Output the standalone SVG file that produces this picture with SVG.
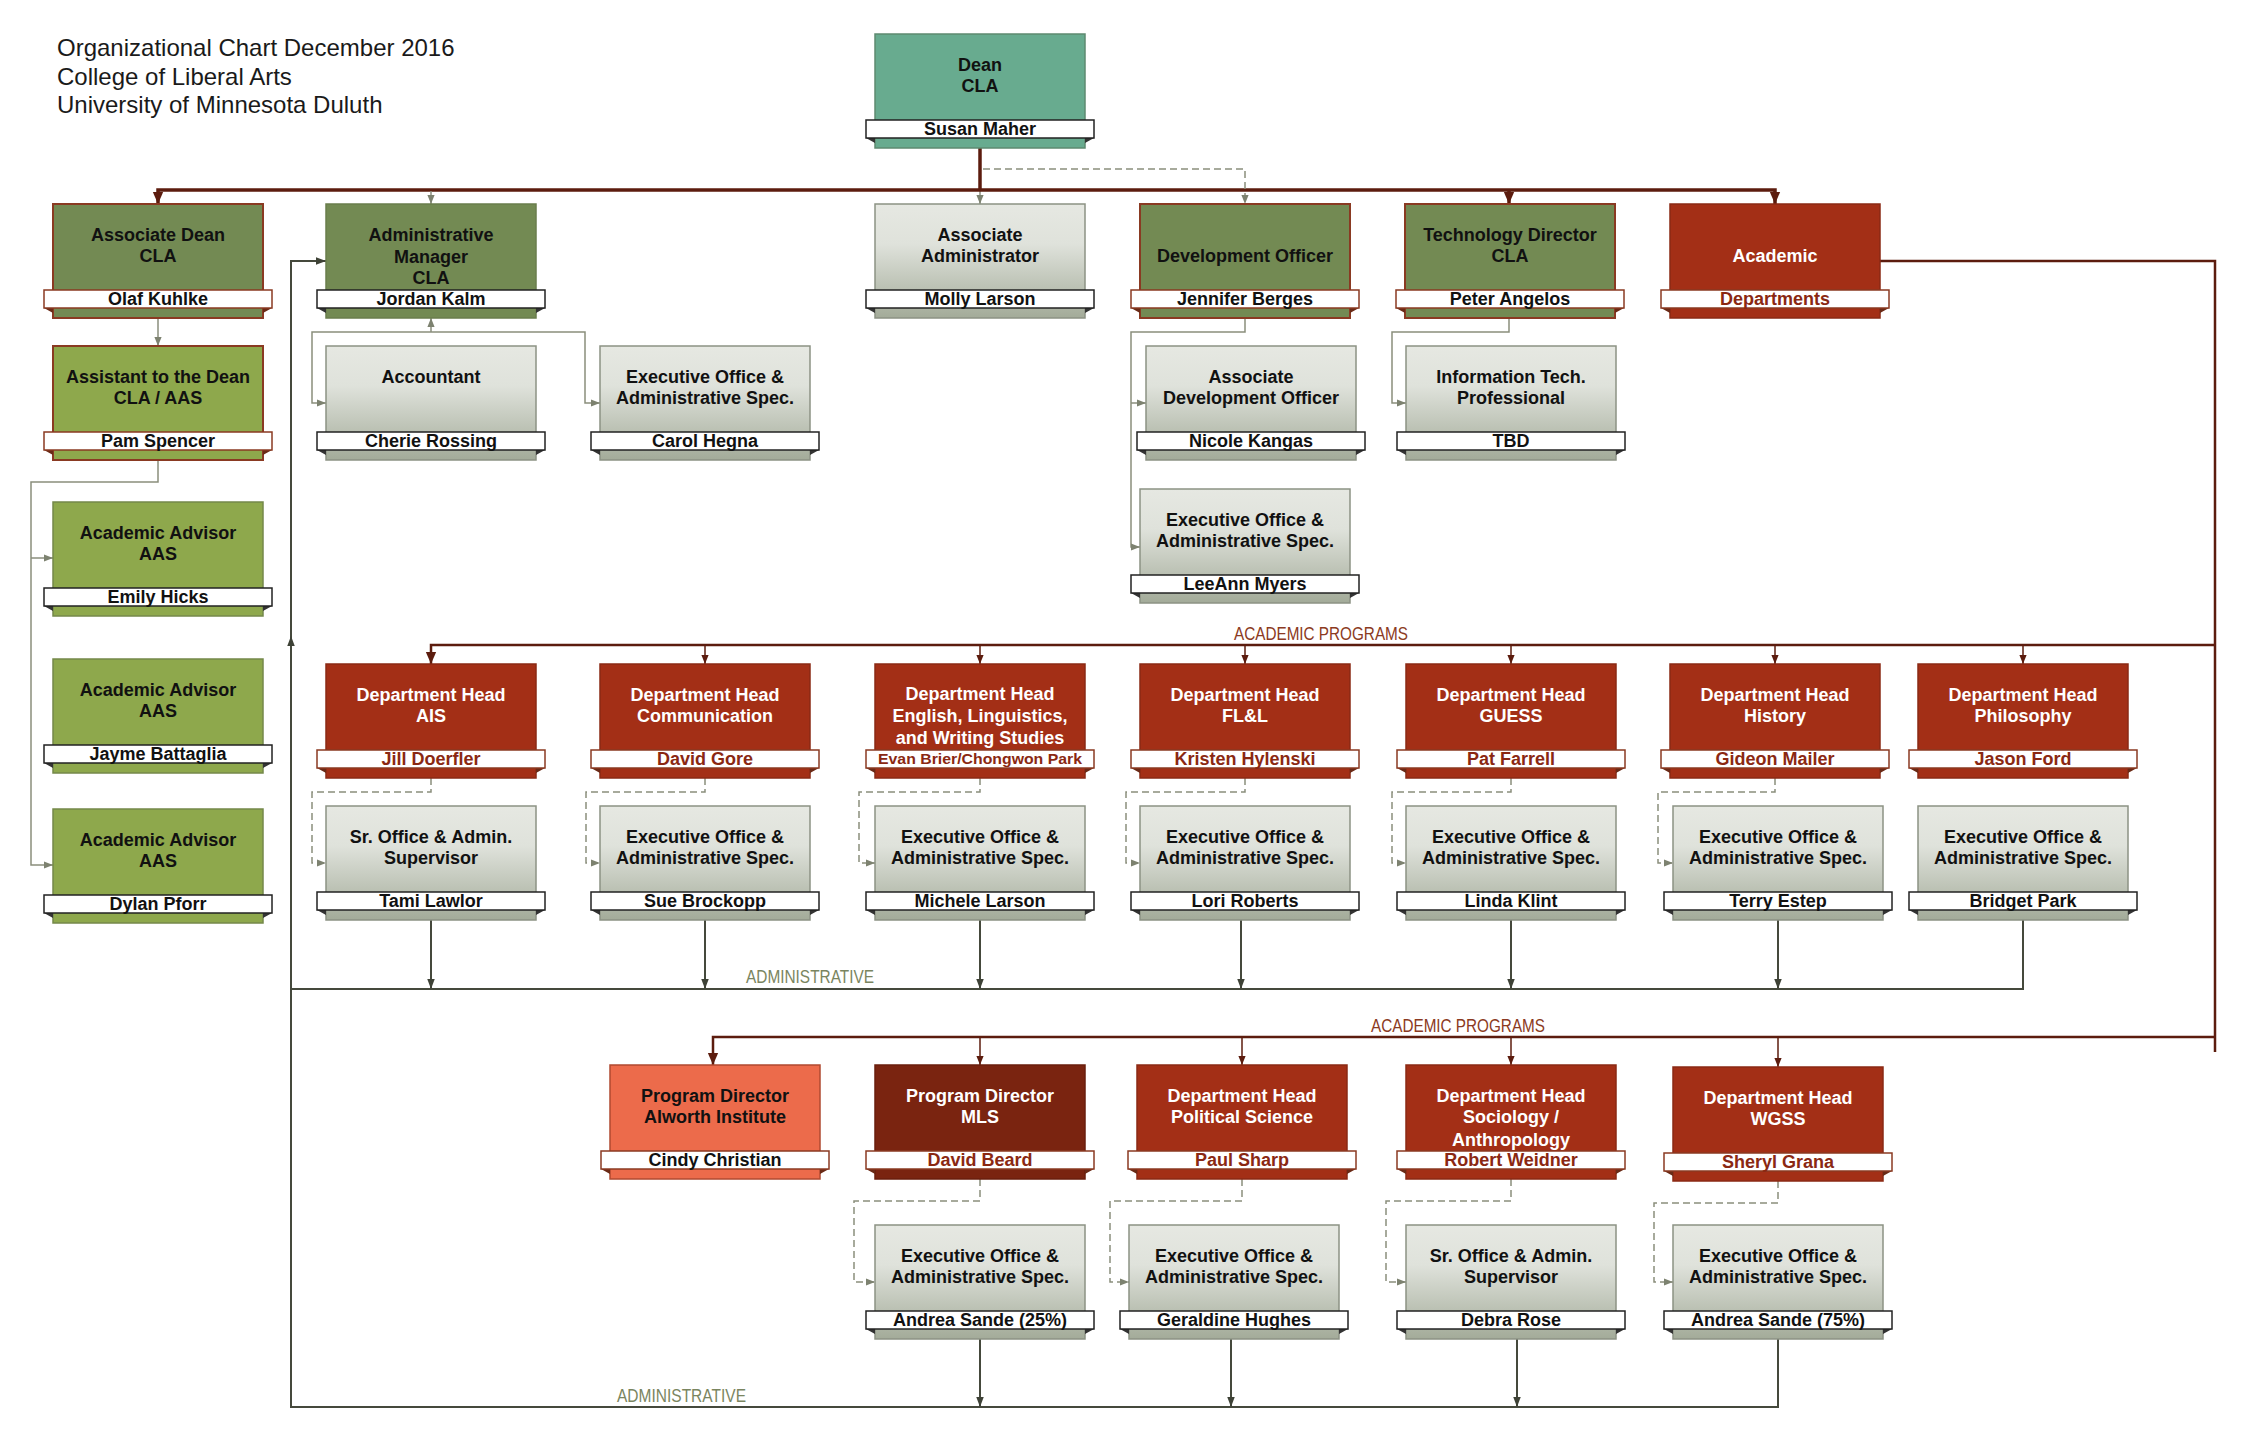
<svg xmlns="http://www.w3.org/2000/svg" width="2250" height="1450" viewBox="0 0 2250 1450">
<defs>
<linearGradient id="gGray" x1="0" y1="0" x2="0" y2="1">
<stop offset="0" stop-color="#e6e8e2"/>
<stop offset="0.35" stop-color="#dfe2db"/>
<stop offset="1" stop-color="#a3ab99"/>
</linearGradient>
<marker id="ahBig" markerUnits="userSpaceOnUse" markerWidth="12" markerHeight="14" viewBox="0 0 14 12" refX="14" refY="6" orient="auto-start-reverse"><path d="M0,0 L14,6 L0,12 z" fill="#5c1c0e"/></marker>
<marker id="ahSm" markerUnits="userSpaceOnUse" markerWidth="9" markerHeight="9" viewBox="0 0 10 8" refX="10" refY="4" orient="auto-start-reverse"><path d="M0,0 L10,4 L0,8 z" fill="#5c1c0e"/></marker>
<marker id="ahGray" markerUnits="userSpaceOnUse" markerWidth="9" markerHeight="9" viewBox="0 0 10 8" refX="10" refY="4" orient="auto-start-reverse"><path d="M0,0 L10,4 L0,8 z" fill="#7d8270"/></marker>
<marker id="ahAdm" markerUnits="userSpaceOnUse" markerWidth="10" markerHeight="10" viewBox="0 0 12 9" refX="12" refY="4.5" orient="auto-start-reverse"><path d="M0,0 L12,4.5 L0,9 z" fill="#3e4236"/></marker>
</defs>
<style>
.title{font-family:"Liberation Sans",Arial,sans-serif;font-size:24px;fill:#1a1a1a}
.t{font-family:"Liberation Sans",Arial,sans-serif;font-weight:bold;font-size:18px;text-anchor:middle;fill:#111}
.tw{fill:#fff}
.nm{font-family:"Liberation Sans",Arial,sans-serif;font-weight:bold;font-size:18px;text-anchor:middle;fill:#111}
.nmr{fill:#8a2812}
.bar{fill:#fff;stroke:#222;stroke-width:1.5}
.barr{fill:#fff;stroke:#8a3a22;stroke-width:1.5}
.fold{fill:#333}
.foldr{fill:#6a2a16}
.teal{fill:#68ab8f;stroke:#5e8a70;stroke-width:1.5}
.olive{fill:#738a53;stroke:#8a3a22;stroke-width:2}
.olive2{fill:#738a53;stroke:#6a7d4c;stroke-width:1.5}
.lolive{fill:#8ea84c;stroke:#8a3a22;stroke-width:2}
.lolive2{fill:#8ea84c;stroke:#74884a;stroke-width:1.5}
.gray{fill:url(#gGray);stroke:#8c9284;stroke-width:1.5}
.red{fill:#a32f16;stroke:#8a2a14;stroke-width:1.5}
.mls{fill:#7a2410;stroke:#6a1e0c;stroke-width:1.5}
.coral{fill:#ec6b4b;stroke:#b04a30;stroke-width:1.5}
.thick{fill:none;stroke:#5c1c0e;stroke-width:3.5}
.acad{fill:none;stroke:#5c1c0e;stroke-width:2.5}
.thin{fill:none;stroke:#5c1c0e;stroke-width:1.5}
.gl{fill:none;stroke:#8a8e7c;stroke-width:1.5}
.dash{fill:none;stroke:#8a8e7c;stroke-width:1.5;stroke-dasharray:7 4}
.adm{fill:none;stroke:#45493c;stroke-width:2}
.lblA{font-family:"Liberation Sans",Arial,sans-serif;font-size:18px;fill:#8b3a22}
.lblD{font-family:"Liberation Sans",Arial,sans-serif;font-size:18px;fill:#7a8560}
</style>
<rect width="2250" height="1450" fill="#fff"/>

<g id="title">
<text class="title" x="57" y="56">Organizational Chart December 2016</text>
<text class="title" x="57" y="85">College of Liberal Arts</text>
<text class="title" x="57" y="113">University of Minnesota Duluth</text>
</g>

<g id="connectors">
<path class="thick" d="M980,148 V190"/>
<path class="gl" d="M980,190 V204" marker-end="url(#ahGray)"/>
<path class="thick" d="M158,204 V190 H1775 V204" marker-start="url(#ahBig)" marker-end="url(#ahBig)"/>
<path class="thick" d="M1509,190 V204" marker-end="url(#ahBig)"/>
<path class="gl" d="M431,191 V204" marker-end="url(#ahGray)"/>
<path class="dash" d="M983,169 H1245 V204" marker-end="url(#ahGray)"/>
<path class="gl" d="M158,318 V346" marker-end="url(#ahGray)"/>
<path class="gl" d="M158,460 V482 H31 V865 H53" marker-end="url(#ahGray)"/>
<path class="gl" d="M31,558 H53" marker-end="url(#ahGray)"/>
<path class="gl" d="M431,332 V318" marker-end="url(#ahGray)"/>
<path class="gl" d="M326,403 H312 V332 H585 V403 H600" marker-start="url(#ahGray)" marker-end="url(#ahGray)"/>
<path class="gl" d="M1245,318 V332 H1131 V547 H1140" marker-end="url(#ahGray)"/>
<path class="gl" d="M1131,403 H1146" marker-end="url(#ahGray)"/>
<path class="gl" d="M1509,318 V332 H1392 V403 H1406" marker-end="url(#ahGray)"/>
<path class="acad" d="M1880,261 H2215 V1052"/>
<path class="acad" d="M2215,645 H431 V664" marker-end="url(#ahBig)"/>
<path class="thin" d="M705,645 V664" marker-end="url(#ahSm)"/>
<path class="thin" d="M980,645 V664" marker-end="url(#ahSm)"/>
<path class="thin" d="M1245,645 V664" marker-end="url(#ahSm)"/>
<path class="thin" d="M1511,645 V664" marker-end="url(#ahSm)"/>
<path class="thin" d="M1775,645 V664" marker-end="url(#ahSm)"/>
<path class="thin" d="M2023,645 V664" marker-end="url(#ahSm)"/>
<path class="acad" d="M2215,1037 H713 V1065" marker-end="url(#ahBig)"/>
<path class="thin" d="M980,1037 V1065" marker-end="url(#ahSm)"/>
<path class="thin" d="M1242,1037 V1065" marker-end="url(#ahSm)"/>
<path class="thin" d="M1511,1037 V1065" marker-end="url(#ahSm)"/>
<path class="thin" d="M1778,1037 V1067" marker-end="url(#ahSm)"/>
<path class="dash" d="M431,778 V792 H312 V863 H326" marker-end="url(#ahGray)"/>
<path class="dash" d="M705,778 V792 H586 V863 H600" marker-end="url(#ahGray)"/>
<path class="dash" d="M980,778 V792 H859 V863 H875" marker-end="url(#ahGray)"/>
<path class="dash" d="M1245,778 V792 H1126 V863 H1140" marker-end="url(#ahGray)"/>
<path class="dash" d="M1511,778 V792 H1392 V863 H1406" marker-end="url(#ahGray)"/>
<path class="dash" d="M1775,778 V792 H1658 V863 H1673" marker-end="url(#ahGray)"/>
<path class="dash" d="M980,1179 V1201 H854 V1282 H875" marker-end="url(#ahGray)"/>
<path class="dash" d="M1242,1179 V1201 H1110 V1282 H1129" marker-end="url(#ahGray)"/>
<path class="dash" d="M1511,1179 V1201 H1386 V1282 H1406" marker-end="url(#ahGray)"/>
<path class="dash" d="M1778,1181 V1203 H1654 V1282 H1673" marker-end="url(#ahGray)"/>
<path class="adm" d="M326,261 H291 V1407 H1778 V1339" marker-start="url(#ahAdm)"/>
<path class="adm" d="M291,652 V636" marker-end="url(#ahAdm)"/>
<path class="adm" d="M291,989 H2023 V920"/>
<path class="adm" d="M431,920 V989" marker-end="url(#ahAdm)"/>
<path class="adm" d="M705,920 V989" marker-end="url(#ahAdm)"/>
<path class="adm" d="M980,920 V989" marker-end="url(#ahAdm)"/>
<path class="adm" d="M1241,920 V989" marker-end="url(#ahAdm)"/>
<path class="adm" d="M1511,920 V989" marker-end="url(#ahAdm)"/>
<path class="adm" d="M1778,920 V989" marker-end="url(#ahAdm)"/>
<path class="adm" d="M980,1339 V1407" marker-end="url(#ahAdm)"/>
<path class="adm" d="M1231,1339 V1407" marker-end="url(#ahAdm)"/>
<path class="adm" d="M1517,1339 V1407" marker-end="url(#ahAdm)"/>
<text class="lblA" x="1234" y="640" textLength="174" lengthAdjust="spacingAndGlyphs">ACADEMIC PROGRAMS</text>
<text class="lblA" x="1371" y="1032" textLength="174" lengthAdjust="spacingAndGlyphs">ACADEMIC PROGRAMS</text>
<text class="lblD" x="746" y="983" textLength="128" lengthAdjust="spacingAndGlyphs">ADMINISTRATIVE</text>
<text class="lblD" x="617" y="1402" textLength="129" lengthAdjust="spacingAndGlyphs">ADMINISTRATIVE</text>
</g>

<g id="n-dean"><rect class="teal" x="875" y="34" width="210" height="114"/><path class="fold" d="M866,138h9v5z M1094,138h-9v5z"/><rect class="bar" x="866" y="120" width="228" height="18"/><text class="t" x="980" y="71">Dean</text><text class="t" x="980" y="92">CLA</text><text class="nm" x="980" y="135">Susan Maher</text></g>

<g id="n-assoc-dean"><rect class="olive" x="53" y="204" width="210" height="114"/><path class="foldr" d="M44,308h9v5z M272,308h-9v5z"/><rect class="barr" x="44" y="290" width="228" height="18"/><text class="t" x="158" y="241">Associate Dean</text><text class="t" x="158" y="262">CLA</text><text class="nm" x="158" y="305">Olaf Kuhlke</text></g>

<g id="n-admin-manager"><rect class="olive2" x="326" y="204" width="210" height="114"/><path class="fold" d="M317,308h9v5z M545,308h-9v5z"/><rect class="bar" x="317" y="290" width="228" height="18"/><text class="t" x="431" y="241">Administrative</text><text class="t" x="431" y="262.5">Manager</text><text class="t" x="431" y="284">CLA</text><text class="nm" x="431" y="305">Jordan Kalm</text></g>

<g id="n-assoc-admin"><rect class="gray" x="875" y="204" width="210" height="114"/><path class="fold" d="M866,308h9v5z M1094,308h-9v5z"/><rect class="bar" x="866" y="290" width="228" height="18"/><text class="t" x="980" y="241">Associate</text><text class="t" x="980" y="262">Administrator</text><text class="nm" x="980" y="305">Molly Larson</text></g>

<g id="n-dev-officer"><rect class="olive" x="1140" y="204" width="210" height="114"/><path class="foldr" d="M1131,308h9v5z M1359,308h-9v5z"/><rect class="barr" x="1131" y="290" width="228" height="18"/><text class="t" x="1245" y="262">Development Officer</text><text class="nm" x="1245" y="305">Jennifer Berges</text></g>

<g id="n-tech-director"><rect class="olive" x="1405" y="204" width="210" height="114"/><path class="foldr" d="M1396,308h9v5z M1624,308h-9v5z"/><rect class="barr" x="1396" y="290" width="228" height="18"/><text class="t" x="1510" y="241">Technology Director</text><text class="t" x="1510" y="262">CLA</text><text class="nm" x="1510" y="305">Peter Angelos</text></g>

<g id="n-academic"><rect class="red" x="1670" y="204" width="210" height="114"/><path class="foldr" d="M1661,308h9v5z M1889,308h-9v5z"/><rect class="barr" x="1661" y="290" width="228" height="18"/><text class="t tw" x="1775" y="262">Academic</text><text class="nm nmr" x="1775" y="305">Departments</text></g>

<g id="n-assistant"><rect class="lolive" x="53" y="346" width="210" height="114"/><path class="foldr" d="M44,450h9v5z M272,450h-9v5z"/><rect class="barr" x="44" y="432" width="228" height="18"/><text class="t" x="158" y="383">Assistant to the Dean</text><text class="t" x="158" y="404">CLA / AAS</text><text class="nm" x="158" y="447">Pam Spencer</text></g>

<g id="n-accountant"><rect class="gray" x="326" y="346" width="210" height="114"/><path class="fold" d="M317,450h9v5z M545,450h-9v5z"/><rect class="bar" x="317" y="432" width="228" height="18"/><text class="t" x="431" y="383">Accountant</text><text class="nm" x="431" y="447">Cherie Rossing</text></g>

<g id="n-exec-hegna"><rect class="gray" x="600" y="346" width="210" height="114"/><path class="fold" d="M591,450h9v5z M819,450h-9v5z"/><rect class="bar" x="591" y="432" width="228" height="18"/><text class="t" x="705" y="383">Executive Office &amp;</text><text class="t" x="705" y="404">Administrative Spec.</text><text class="nm" x="705" y="447">Carol Hegna</text></g>

<g id="n-assoc-dev"><rect class="gray" x="1146" y="346" width="210" height="114"/><path class="fold" d="M1137,450h9v5z M1365,450h-9v5z"/><rect class="bar" x="1137" y="432" width="228" height="18"/><text class="t" x="1251" y="383">Associate</text><text class="t" x="1251" y="404">Development Officer</text><text class="nm" x="1251" y="447">Nicole Kangas</text></g>

<g id="n-it-pro"><rect class="gray" x="1406" y="346" width="210" height="114"/><path class="fold" d="M1397,450h9v5z M1625,450h-9v5z"/><rect class="bar" x="1397" y="432" width="228" height="18"/><text class="t" x="1511" y="383">Information Tech.</text><text class="t" x="1511" y="404">Professional</text><text class="nm" x="1511" y="447">TBD</text></g>

<g id="n-advisor-hicks"><rect class="lolive2" x="53" y="502" width="210" height="114"/><path class="fold" d="M44,606h9v5z M272,606h-9v5z"/><rect class="bar" x="44" y="588" width="228" height="18"/><text class="t" x="158" y="539">Academic Advisor</text><text class="t" x="158" y="560">AAS</text><text class="nm" x="158" y="603">Emily Hicks</text></g>

<g id="n-exec-myers"><rect class="gray" x="1140" y="489" width="210" height="114"/><path class="fold" d="M1131,593h9v5z M1359,593h-9v5z"/><rect class="bar" x="1131" y="575" width="228" height="18"/><text class="t" x="1245" y="526">Executive Office &amp;</text><text class="t" x="1245" y="547">Administrative Spec.</text><text class="nm" x="1245" y="590">LeeAnn Myers</text></g>

<g id="n-advisor-battaglia"><rect class="lolive2" x="53" y="659" width="210" height="114"/><path class="fold" d="M44,763h9v5z M272,763h-9v5z"/><rect class="bar" x="44" y="745" width="228" height="18"/><text class="t" x="158" y="696">Academic Advisor</text><text class="t" x="158" y="717">AAS</text><text class="nm" x="158" y="760">Jayme Battaglia</text></g>

<g id="n-advisor-pforr"><rect class="lolive2" x="53" y="809" width="210" height="114"/><path class="fold" d="M44,913h9v5z M272,913h-9v5z"/><rect class="bar" x="44" y="895" width="228" height="18"/><text class="t" x="158" y="846">Academic Advisor</text><text class="t" x="158" y="867">AAS</text><text class="nm" x="158" y="910">Dylan Pforr</text></g>

<g id="n-head-ais"><rect class="red" x="326" y="664" width="210" height="114"/><path class="foldr" d="M317,768h9v5z M545,768h-9v5z"/><rect class="barr" x="317" y="750" width="228" height="18"/><text class="t tw" x="431" y="701">Department Head</text><text class="t tw" x="431" y="722">AIS</text><text class="nm nmr" x="431" y="765">Jill Doerfler</text></g>

<g id="n-head-comm"><rect class="red" x="600" y="664" width="210" height="114"/><path class="foldr" d="M591,768h9v5z M819,768h-9v5z"/><rect class="barr" x="591" y="750" width="228" height="18"/><text class="t tw" x="705" y="701">Department Head</text><text class="t tw" x="705" y="722">Communication</text><text class="nm nmr" x="705" y="765">David Gore</text></g>

<g id="n-head-english"><rect class="red" x="875" y="664" width="210" height="114"/><path class="foldr" d="M866,768h9v5z M1094,768h-9v5z"/><rect class="barr" x="866" y="750" width="228" height="18"/><text class="t tw" x="980" y="700">Department Head</text><text class="t tw" x="980" y="721.5">English, Linguistics,</text><text class="t tw" x="980" y="743.5">and Writing Studies</text><text class="nm nmr" x="980" y="764" style="font-size:14px" textLength="204" lengthAdjust="spacingAndGlyphs">Evan Brier/Chongwon Park</text></g>

<g id="n-head-fll"><rect class="red" x="1140" y="664" width="210" height="114"/><path class="foldr" d="M1131,768h9v5z M1359,768h-9v5z"/><rect class="barr" x="1131" y="750" width="228" height="18"/><text class="t tw" x="1245" y="701">Department Head</text><text class="t tw" x="1245" y="722">FL&amp;L</text><text class="nm nmr" x="1245" y="765">Kristen Hylenski</text></g>

<g id="n-head-guess"><rect class="red" x="1406" y="664" width="210" height="114"/><path class="foldr" d="M1397,768h9v5z M1625,768h-9v5z"/><rect class="barr" x="1397" y="750" width="228" height="18"/><text class="t tw" x="1511" y="701">Department Head</text><text class="t tw" x="1511" y="722">GUESS</text><text class="nm nmr" x="1511" y="765">Pat Farrell</text></g>

<g id="n-head-history"><rect class="red" x="1670" y="664" width="210" height="114"/><path class="foldr" d="M1661,768h9v5z M1889,768h-9v5z"/><rect class="barr" x="1661" y="750" width="228" height="18"/><text class="t tw" x="1775" y="701">Department Head</text><text class="t tw" x="1775" y="722">History</text><text class="nm nmr" x="1775" y="765">Gideon Mailer</text></g>

<g id="n-head-philosophy"><rect class="red" x="1918" y="664" width="210" height="114"/><path class="foldr" d="M1909,768h9v5z M2137,768h-9v5z"/><rect class="barr" x="1909" y="750" width="228" height="18"/><text class="t tw" x="2023" y="701">Department Head</text><text class="t tw" x="2023" y="722">Philosophy</text><text class="nm nmr" x="2023" y="765">Jason Ford</text></g>

<g id="n-sup-lawlor"><rect class="gray" x="326" y="806" width="210" height="114"/><path class="fold" d="M317,910h9v5z M545,910h-9v5z"/><rect class="bar" x="317" y="892" width="228" height="18"/><text class="t" x="431" y="843">Sr. Office &amp; Admin.</text><text class="t" x="431" y="864">Supervisor</text><text class="nm" x="431" y="907">Tami Lawlor</text></g>

<g id="n-exec-brockopp"><rect class="gray" x="600" y="806" width="210" height="114"/><path class="fold" d="M591,910h9v5z M819,910h-9v5z"/><rect class="bar" x="591" y="892" width="228" height="18"/><text class="t" x="705" y="843">Executive Office &amp;</text><text class="t" x="705" y="864">Administrative Spec.</text><text class="nm" x="705" y="907">Sue Brockopp</text></g>

<g id="n-exec-larson"><rect class="gray" x="875" y="806" width="210" height="114"/><path class="fold" d="M866,910h9v5z M1094,910h-9v5z"/><rect class="bar" x="866" y="892" width="228" height="18"/><text class="t" x="980" y="843">Executive Office &amp;</text><text class="t" x="980" y="864">Administrative Spec.</text><text class="nm" x="980" y="907">Michele Larson</text></g>

<g id="n-exec-roberts"><rect class="gray" x="1140" y="806" width="210" height="114"/><path class="fold" d="M1131,910h9v5z M1359,910h-9v5z"/><rect class="bar" x="1131" y="892" width="228" height="18"/><text class="t" x="1245" y="843">Executive Office &amp;</text><text class="t" x="1245" y="864">Administrative Spec.</text><text class="nm" x="1245" y="907">Lori Roberts</text></g>

<g id="n-exec-klint"><rect class="gray" x="1406" y="806" width="210" height="114"/><path class="fold" d="M1397,910h9v5z M1625,910h-9v5z"/><rect class="bar" x="1397" y="892" width="228" height="18"/><text class="t" x="1511" y="843">Executive Office &amp;</text><text class="t" x="1511" y="864">Administrative Spec.</text><text class="nm" x="1511" y="907">Linda Klint</text></g>

<g id="n-exec-estep"><rect class="gray" x="1673" y="806" width="210" height="114"/><path class="fold" d="M1664,910h9v5z M1892,910h-9v5z"/><rect class="bar" x="1664" y="892" width="228" height="18"/><text class="t" x="1778" y="843">Executive Office &amp;</text><text class="t" x="1778" y="864">Administrative Spec.</text><text class="nm" x="1778" y="907">Terry Estep</text></g>

<g id="n-exec-park"><rect class="gray" x="1918" y="806" width="210" height="114"/><path class="fold" d="M1909,910h9v5z M2137,910h-9v5z"/><rect class="bar" x="1909" y="892" width="228" height="18"/><text class="t" x="2023" y="843">Executive Office &amp;</text><text class="t" x="2023" y="864">Administrative Spec.</text><text class="nm" x="2023" y="907">Bridget Park</text></g>

<g id="n-dir-alworth"><rect class="coral" x="610" y="1065" width="210" height="114"/><path class="foldr" d="M601,1169h9v5z M829,1169h-9v5z"/><rect class="barr" x="601" y="1151" width="228" height="18"/><text class="t" x="715" y="1102">Program Director</text><text class="t" x="715" y="1123">Alworth Institute</text><text class="nm" x="715" y="1166">Cindy Christian</text></g>

<g id="n-dir-mls"><rect class="mls" x="875" y="1065" width="210" height="114"/><path class="foldr" d="M866,1169h9v5z M1094,1169h-9v5z"/><rect class="barr" x="866" y="1151" width="228" height="18"/><text class="t tw" x="980" y="1102">Program Director</text><text class="t tw" x="980" y="1123">MLS</text><text class="nm nmr" x="980" y="1166">David Beard</text></g>

<g id="n-head-polisci"><rect class="red" x="1137" y="1065" width="210" height="114"/><path class="foldr" d="M1128,1169h9v5z M1356,1169h-9v5z"/><rect class="barr" x="1128" y="1151" width="228" height="18"/><text class="t tw" x="1242" y="1102">Department Head</text><text class="t tw" x="1242" y="1123">Political Science</text><text class="nm nmr" x="1242" y="1166">Paul Sharp</text></g>

<g id="n-head-socanth"><rect class="red" x="1406" y="1065" width="210" height="114"/><path class="foldr" d="M1397,1169h9v5z M1625,1169h-9v5z"/><rect class="barr" x="1397" y="1151" width="228" height="18"/><text class="t tw" x="1511" y="1101.5">Department Head</text><text class="t tw" x="1511" y="1123">Sociology /</text><text class="t tw" x="1511" y="1145.5">Anthropology</text><text class="nm nmr" x="1511" y="1166">Robert Weidner</text></g>

<g id="n-head-wgss"><rect class="red" x="1673" y="1067" width="210" height="114"/><path class="foldr" d="M1664,1171h9v5z M1892,1171h-9v5z"/><rect class="barr" x="1664" y="1153" width="228" height="18"/><text class="t tw" x="1778" y="1104">Department Head</text><text class="t tw" x="1778" y="1125">WGSS</text><text class="nm nmr" x="1778" y="1168">Sheryl Grana</text></g>

<g id="n-exec-sande25"><rect class="gray" x="875" y="1225" width="210" height="114"/><path class="fold" d="M866,1329h9v5z M1094,1329h-9v5z"/><rect class="bar" x="866" y="1311" width="228" height="18"/><text class="t" x="980" y="1262">Executive Office &amp;</text><text class="t" x="980" y="1283">Administrative Spec.</text><text class="nm" x="980" y="1326">Andrea Sande (25%)</text></g>

<g id="n-exec-hughes"><rect class="gray" x="1129" y="1225" width="210" height="114"/><path class="fold" d="M1120,1329h9v5z M1348,1329h-9v5z"/><rect class="bar" x="1120" y="1311" width="228" height="18"/><text class="t" x="1234" y="1262">Executive Office &amp;</text><text class="t" x="1234" y="1283">Administrative Spec.</text><text class="nm" x="1234" y="1326">Geraldine Hughes</text></g>

<g id="n-sup-rose"><rect class="gray" x="1406" y="1225" width="210" height="114"/><path class="fold" d="M1397,1329h9v5z M1625,1329h-9v5z"/><rect class="bar" x="1397" y="1311" width="228" height="18"/><text class="t" x="1511" y="1262">Sr. Office &amp; Admin.</text><text class="t" x="1511" y="1283">Supervisor</text><text class="nm" x="1511" y="1326">Debra Rose</text></g>

<g id="n-exec-sande75"><rect class="gray" x="1673" y="1225" width="210" height="114"/><path class="fold" d="M1664,1329h9v5z M1892,1329h-9v5z"/><rect class="bar" x="1664" y="1311" width="228" height="18"/><text class="t" x="1778" y="1262">Executive Office &amp;</text><text class="t" x="1778" y="1283">Administrative Spec.</text><text class="nm" x="1778" y="1326">Andrea Sande (75%)</text></g>
</svg>
